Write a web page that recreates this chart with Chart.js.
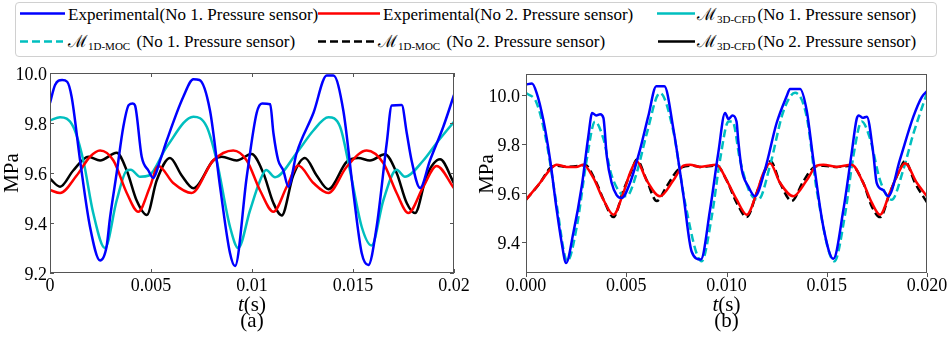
<!DOCTYPE html>
<html><head><meta charset="utf-8">
<script src="https://cdn.jsdelivr.net/npm/chart.js@4/dist/chart.umd.min.js"></script>
<style>
html,body{margin:0;padding:0;background:#fff;}
body{font-family:"Liberation Serif",serif;}
#legendBox{position:absolute;left:15px;top:2px;width:922px;height:55px;border:1px solid #d0d0d0;border-radius:4px;box-sizing:border-box;}
.it{position:absolute;font-size:17px;line-height:17px;white-space:nowrap;color:#000;}
.m{font-family:"DejaVu Serif",serif;font-size:17px;}
.sub{font-size:11px;position:relative;top:3px;margin-right:2px;}
.tk{position:absolute;font-size:18px;line-height:18px;white-space:nowrap;color:#000;}
.ti{position:absolute;font-size:21px;line-height:21px;white-space:nowrap;color:#000;}
svg.sw{position:absolute;left:0;top:0;}
canvas{position:absolute;}
</style></head>
<body>
<div id="legendBox"></div>
<svg class="sw" width="947" height="60" id="swatches"></svg>
<canvas id="cA" width="470" height="284" style="left:0;top:60px"></canvas>
<canvas id="cB" width="477" height="284" style="left:470px;top:60px"></canvas>
<script>
// ---------- data ----------
const xTickValues = [0, 0.005, 0.01, 0.015, 0.02];
const xTickLabelsA = ['0', '0.005', '0.01', '0.015', '0.02'];
const xTickLabelsB = ['0.000', '0.005', '0.010', '0.015', '0.020'];
const yTickValuesA = [9.2, 9.4, 9.6, 9.8, 10.0];
const yTickLabelsA = ['9.2', '9.4', '9.6', '9.8', '10.0'];
const yTickValuesB = [9.4, 9.6, 9.8, 10.0];
const yTickLabelsB = ['9.4', '9.6', '9.8', '10.0'];

const legendLabels = [
  'Experimental(No 1. Pressure sensor)',
  'Experimental(No 2. Pressure sensor)',
  '(No 1. Pressure sensor)',
  '(No 1. Pressure sensor)',
  '(No 2. Pressure sensor)',
  '(No 2. Pressure sensor)'
];

// panel (a): [t (s), pressure (MPa)]
const aExp1 = [[0,9.88],[0.00025,9.952],[0.0006,9.972],[0.00085,9.965],[0.00107,9.905],[0.00149,9.65],[0.00198,9.385],[0.00248,9.25],[0.0028,9.305],[0.00297,9.42],[0.0033,9.6],[0.00363,9.785],[0.0039,9.872],[0.0041,9.878],[0.00421,9.87],[0.00454,9.665],[0.00487,9.61],[0.00511,9.58],[0.00545,9.65],[0.00578,9.73],[0.0066,9.905],[0.0071,9.975],[0.0074,9.972],[0.00792,9.85],[0.00842,9.545],[0.00891,9.28],[0.00916,9.228],[0.00974,9.585],[0.01023,9.84],[0.0105,9.878],[0.0109,9.875],[0.01106,9.76],[0.0113,9.65],[0.01155,9.61],[0.0118,9.545],[0.01221,9.68],[0.01304,9.84],[0.0137,9.99],[0.01403,9.99],[0.01452,9.85],[0.01502,9.52],[0.01543,9.28],[0.01576,9.232],[0.01617,9.385],[0.01667,9.72],[0.01692,9.87],[0.01741,9.872],[0.01766,9.76],[0.0179,9.65],[0.01832,9.54],[0.01881,9.65],[0.01947,9.785],[0.02,9.912]];
const aExp2 = [[0,9.532],[0.0005,9.52],[0.00132,9.59],[0.00198,9.665],[0.00248,9.69],[0.00314,9.65],[0.0038,9.52],[0.00437,9.445],[0.00495,9.545],[0.00536,9.628],[0.0061,9.56],[0.00701,9.52],[0.00808,9.65],[0.00907,9.69],[0.00974,9.65],[0.0104,9.53],[0.01106,9.445],[0.01172,9.545],[0.01229,9.63],[0.01304,9.56],[0.01378,9.52],[0.01469,9.625],[0.01568,9.69],[0.0165,9.64],[0.01716,9.52],[0.01774,9.44],[0.01848,9.545],[0.01914,9.628],[0.02,9.539]];
const aCfd1 = [[0,9.81],[0.0005,9.823],[0.00115,9.785],[0.00165,9.65],[0.00214,9.44],[0.00272,9.30],[0.0033,9.49],[0.0038,9.61],[0.004,9.613],[0.00446,9.585],[0.0049,9.59],[0.00578,9.705],[0.0071,9.825],[0.00776,9.785],[0.00825,9.65],[0.00891,9.385],[0.00932,9.30],[0.0099,9.45],[0.0104,9.57],[0.0107,9.612],[0.01114,9.583],[0.01221,9.68],[0.01304,9.77],[0.01378,9.823],[0.01436,9.785],[0.01485,9.61],[0.01543,9.385],[0.01592,9.31],[0.0165,9.49],[0.01716,9.613],[0.01757,9.585],[0.01848,9.65],[0.01914,9.72],[0.02,9.805]];
const aCfd2 = [[0,9.577],[0.0005,9.545],[0.00115,9.61],[0.0019,9.665],[0.00248,9.65],[0.0033,9.681],[0.0038,9.61],[0.00429,9.49],[0.00479,9.432],[0.00528,9.57],[0.00594,9.66],[0.00652,9.59],[0.0071,9.539],[0.00808,9.65],[0.0085,9.665],[0.00924,9.65],[0.00998,9.676],[0.01056,9.6],[0.01106,9.48],[0.01147,9.43],[0.01204,9.59],[0.01262,9.66],[0.0132,9.59],[0.01378,9.535],[0.01469,9.645],[0.01526,9.66],[0.01584,9.65],[0.01658,9.675],[0.01716,9.6],[0.01766,9.48],[0.01807,9.44],[0.01865,9.59],[0.01931,9.655],[0.02,9.559]];

// panel (b)
const bExp1 = [[0,10.041],[0.0003,10.045],[0.00053,10.007],[0.00086,9.898],[0.0012,9.735],[0.00153,9.53],[0.00178,9.395],[0.002,9.313],[0.00236,9.435],[0.00278,9.626],[0.00311,9.83],[0.0033,9.925],[0.0035,9.915],[0.0037,9.92],[0.00386,9.905],[0.00403,9.748],[0.00427,9.64],[0.00452,9.59],[0.00477,9.578],[0.00519,9.64],[0.00569,9.776],[0.0061,9.912],[0.0065,10.034],[0.0069,10.034],[0.00735,9.86],[0.00785,9.59],[0.00826,9.36],[0.00872,9.327],[0.00918,9.53],[0.00959,9.762],[0.00993,9.925],[0.0101,9.90],[0.0103,9.915],[0.0105,9.89],[0.01059,9.81],[0.01076,9.694],[0.01109,9.625],[0.01142,9.585],[0.01192,9.694],[0.0125,9.884],[0.013,9.993],[0.01317,10.023],[0.01367,10.023],[0.014,9.935],[0.01433,9.735],[0.01483,9.46],[0.01533,9.33],[0.01583,9.53],[0.01624,9.76],[0.01649,9.9],[0.0166,9.915],[0.0168,9.905],[0.017,9.91],[0.01732,9.76],[0.01749,9.64],[0.01782,9.61],[0.01807,9.585],[0.01865,9.735],[0.01932,9.91],[0.01974,9.99],[0.02,10.014]];
const bExp2 = [[0,9.571],[0.0007,9.64],[0.0012,9.694],[0.00153,9.714],[0.00203,9.705],[0.0025,9.705],[0.00286,9.714],[0.00336,9.66],[0.00386,9.571],[0.00436,9.51],[0.00486,9.6],[0.00519,9.68],[0.00552,9.728],[0.00602,9.65],[0.00668,9.585],[0.00735,9.65],[0.00785,9.71],[0.00818,9.714],[0.00868,9.705],[0.00951,9.714],[0.01001,9.65],[0.01051,9.571],[0.01101,9.51],[0.01151,9.6],[0.01184,9.68],[0.01217,9.72],[0.01267,9.64],[0.01333,9.585],[0.014,9.65],[0.0145,9.71],[0.01483,9.714],[0.0155,9.705],[0.01624,9.714],[0.01682,9.64],[0.01724,9.56],[0.01766,9.51],[0.01815,9.6],[0.01857,9.68],[0.0189,9.72],[0.01949,9.64],[0.02,9.585]];
const bMoc1 = [[0,10.007],[0.00053,9.966],[0.00103,9.803],[0.00153,9.55],[0.00206,9.32],[0.00253,9.46],[0.00303,9.735],[0.00344,9.89],[0.00386,9.82],[0.00427,9.67],[0.00502,9.585],[0.00552,9.68],[0.00602,9.84],[0.00668,10.007],[0.00735,9.85],[0.00793,9.56],[0.00876,9.32],[0.00926,9.5],[0.00968,9.735],[0.0101,9.89],[0.0103,9.89],[0.01067,9.735],[0.01117,9.6],[0.01159,9.571],[0.01217,9.71],[0.01283,9.93],[0.01342,10.007],[0.014,9.91],[0.0145,9.61],[0.01538,9.32],[0.01591,9.51],[0.01633,9.75],[0.01674,9.89],[0.01716,9.82],[0.01766,9.65],[0.01824,9.571],[0.01882,9.694],[0.01932,9.84],[0.02,10.007]];
const bMoc2 = [[0,9.571],[0.0007,9.64],[0.0012,9.70],[0.00153,9.71],[0.00203,9.705],[0.00269,9.71],[0.00294,9.714],[0.00344,9.653],[0.00394,9.558],[0.00436,9.50],[0.00486,9.61],[0.00527,9.69],[0.00552,9.735],[0.00602,9.65],[0.00652,9.566],[0.00702,9.626],[0.00768,9.70],[0.00835,9.71],[0.00868,9.705],[0.00951,9.71],[0.01001,9.65],[0.01051,9.558],[0.01101,9.50],[0.01151,9.6],[0.01192,9.69],[0.0122,9.728],[0.01267,9.64],[0.01325,9.566],[0.01383,9.646],[0.0144,9.705],[0.01483,9.71],[0.0155,9.705],[0.01624,9.71],[0.01682,9.64],[0.01724,9.545],[0.01766,9.50],[0.01815,9.6],[0.01857,9.68],[0.0189,9.728],[0.0194,9.64],[0.02,9.56]];

// ---------- styles ----------
const BLUE = '#0000ff', RED = '#ff0000', CYAN = '#00bfbf', BLACK = '#000000';

// ---------- helpers ----------
function toXY(arr){ return arr.map(p=>({x:p[0], y:p[1]})); }
function ds(arr, color, dash){
  return {data:toXY(arr), borderColor:color, borderWidth:2.5, pointRadius:0,
    fill:false, cubicInterpolationMode:'monotone', borderDash: dash || [],
    borderCapStyle:'butt'};
}
function addText(cls, html, x, y, tx){
  const d = document.createElement('div');
  d.className = cls; d.innerHTML = html;
  d.style.left = x + 'px'; d.style.top = y + 'px';
  if (tx) d.style.transform = tx;
  document.body.appendChild(d);
  return d;
}

function framePlugin(opts){
  return {
    id:'frame'+opts.tag,
    afterDraw(chart){
      const ctx = chart.ctx, a = chart.chartArea;
      const xs = chart.scales.x, ys = chart.scales.y;
      ctx.save();
      ctx.strokeStyle = '#555'; ctx.lineWidth = 1;
      ctx.strokeRect(a.left+0.5, a.top+0.5, a.right-a.left-1, a.bottom-a.top-1);
      ctx.beginPath();
      const L = 4;
      xs.ticks.forEach(t=>{
        const px = Math.round(xs.getPixelForValue(t.value))+0.5;
        if (opts.inward){
          ctx.moveTo(px, a.bottom); ctx.lineTo(px, a.bottom-L);
          ctx.moveTo(px, a.top); ctx.lineTo(px, a.top+L);
        } else {
          ctx.moveTo(px, a.bottom); ctx.lineTo(px, a.bottom+L);
        }
      });
      ys.ticks.forEach(t=>{
        const py = Math.round(ys.getPixelForValue(t.value))+0.5;
        if (opts.inward){
          ctx.moveTo(a.left, py); ctx.lineTo(a.left+L, py);
          ctx.moveTo(a.right, py); ctx.lineTo(a.right-L, py);
        } else {
          ctx.moveTo(a.left, py); ctx.lineTo(a.left-L, py);
        }
      });
      ctx.stroke();
      ctx.restore();
    }
  };
}

function makeChart(id, datasets, o){
  const chart = new Chart(document.getElementById(id), {
    type:'line',
    data:{datasets},
    options:{
      responsive:false, animation:false,
      layout:{padding:{top:o.padTop, right:o.padRight, left:0, bottom:0}},
      plugins:{legend:{display:false}, tooltip:{enabled:false}},
      scales:{
        x:{type:'linear', min:0, max:0.02,
          grid:{display:false, drawTicks:false}, border:{display:false},
          afterBuildTicks:s=>{ s.ticks = xTickValues.map(v=>({value:v})); },
          afterFit:s=>{ s.height = o.xH; },
          ticks:{display:false}
        },
        y:{type:'linear', min:o.yMin, max:o.yMax,
          grid:{display:false, drawTicks:false}, border:{display:false},
          afterBuildTicks:s=>{ s.ticks = o.yVals.map(v=>({value:v})); },
          afterFit:s=>{ s.width = o.yW; },
          ticks:{display:false}
        }
      }
    },
    plugins:[framePlugin(o)]
  });
  // tick labels and axis titles as real (DOM) text, placed with the chart's own scales
  const xs = chart.scales.x, ys = chart.scales.y, a = chart.chartArea;
  xTickValues.forEach((v,i)=>{
    addText('tk', o.xLabels[i], o.left + xs.getPixelForValue(v), o.top + a.bottom + o.xPad, 'translateX(-50%)');
  });
  o.yVals.forEach((v,i)=>{
    addText('tk', o.yLabels[i], o.left + a.left - o.yPad, o.top + ys.getPixelForValue(v) - 8, 'translateX(-100%)');
  });
  const cx = o.left + (a.left + a.right)/2;
  addText('ti', '<i>t</i>(s)', cx, o.top + a.bottom + 21, 'translateX(-50%)');
  addText('ti', o.panel, cx, o.top + a.bottom + 37, 'translateX(-50%)');
  const my = o.top + (a.top + a.bottom)/2;
  addText('ti', 'MPa', o.ylabX, my, 'translate(-50%,-50%) rotate(-90deg)');
  return chart;
}

makeChart('cA', [ds(aExp1,BLUE), ds(aExp2,RED), ds(aCfd1,CYAN), ds(aCfd2,BLACK)], {
  tag:'A', inward:true, panel:'(a)', ylabX:11, left:0, top:60,
  padTop:13, padRight:16, xH:71, yW:50, xPad:3, yPad:3,
  yMin:9.2, yMax:10.0, yVals:yTickValuesA, yLabels:yTickLabelsA, xLabels:xTickLabelsA
});
makeChart('cB', [ds(bExp1,BLUE), ds(bExp2,RED), ds(bMoc1,CYAN,[8,4]), ds(bMoc2,BLACK,[8,4])], {
  tag:'B', inward:false, panel:'(b)', ylabX:486, left:470, top:60,
  padTop:14, padRight:20, xH:71, yW:56, xPad:3, yPad:6,
  yMin:9.272, yMax:10.084, yVals:yTickValuesB, yLabels:yTickLabelsB, xLabels:xTickLabelsB
});

// ---------- legend (HTML, real text) ----------
(function buildLegend(){
  const svg = document.getElementById('swatches');
  const sw = [
    {x1:20,x2:65,y:13.5,c:BLUE,d:null},
    {x1:318,x2:380,y:13.5,c:RED,d:null},
    {x1:657,x2:695,y:13.5,c:CYAN,d:null},
    {x1:20,x2:63,y:41.5,c:CYAN,d:'8,4'},
    {x1:318,x2:375,y:41.5,c:BLACK,d:'8,4'},
    {x1:658,x2:695,y:41.5,c:BLACK,d:null}
  ];
  sw.forEach(s=>{
    const l = document.createElementNS('http://www.w3.org/2000/svg','line');
    l.setAttribute('x1',s.x1); l.setAttribute('x2',s.x2);
    l.setAttribute('y1',s.y); l.setAttribute('y2',s.y);
    l.setAttribute('stroke',s.c); l.setAttribute('stroke-width','2.5');
    if (s.d) l.setAttribute('stroke-dasharray', s.d);
    svg.appendChild(l);
  });
  const items = [
    {x:68,y:6,html:legendLabels[0]},
    {x:383,y:6,html:legendLabels[1]},
    {x:697,y:6,html:'<span class="m">ℳ</span><span class="sub">3D-CFD</span>'+legendLabels[2]},
    {x:68,y:33,html:'<span class="m">ℳ</span><span class="sub">1D-MOC</span> '+legendLabels[3]},
    {x:378,y:33,html:'<span class="m">ℳ</span><span class="sub">1D-MOC</span> '+legendLabels[4]},
    {x:697,y:33,html:'<span class="m">ℳ</span><span class="sub">3D-CFD</span>'+legendLabels[5]}
  ];
  items.forEach(it=>addText('it', it.html, it.x, it.y));
})();
</script>
</body></html>
